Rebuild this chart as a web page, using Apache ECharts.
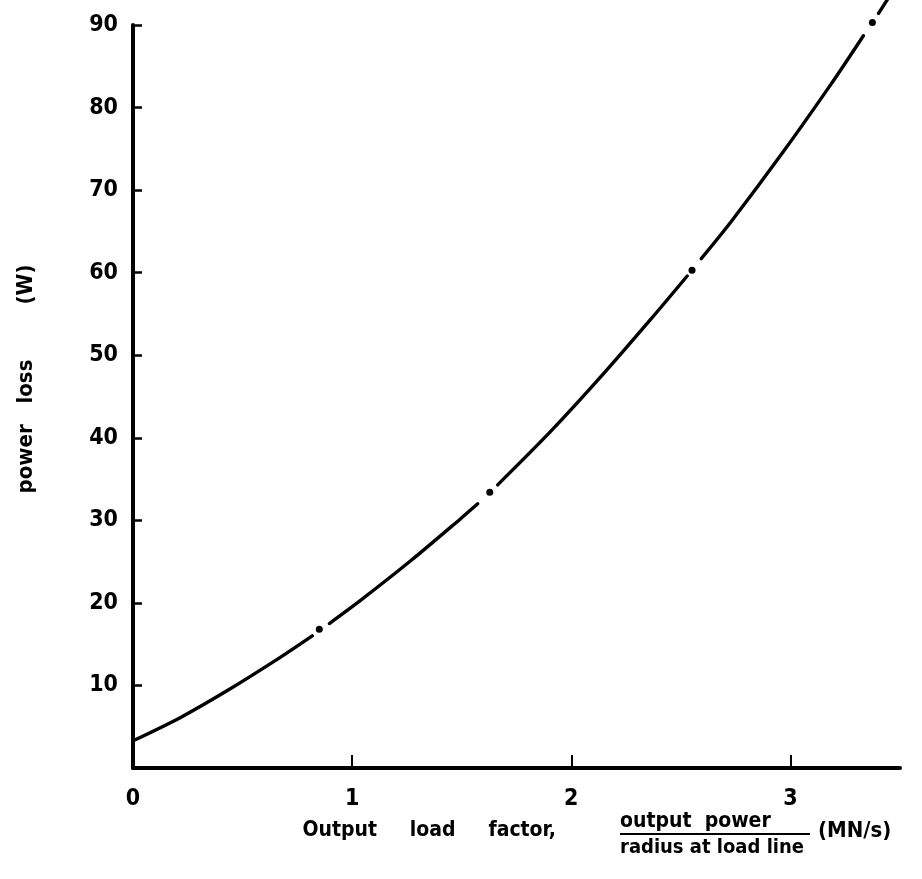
<!DOCTYPE html>
<html>
<head>
<meta charset="utf-8">
<script src="https://cdn.jsdelivr.net/npm/echarts@6/dist/echarts.min.js"></script>
<style>
  html, body { margin: 0; padding: 0; background: #fff; }
  #chart { width: 922px; height: 879px; }
</style>
</head>
<body>
<div id="chart"></div>
<script>
// Power loss (W) against output load factor (MN/s)
const xTicks = [0, 1, 2, 3];
const yTicks = [10, 20, 30, 40, 50, 60, 70, 80, 90];

// Curve drawn as a chain-dot line: solid runs separated by single dots
const runA = [[0, 3.3], [0.215, 6.1], [0.444, 9.6], [0.672, 13.4], [0.818, 16.0]];
const runB = [[0.896, 17.5], [1.038, 20.3], [1.267, 25.1], [1.495, 30.2], [1.573, 32.0]];
const runC = [[1.664, 34.3], [1.907, 40.8], [2.135, 47.4], [2.364, 54.4], [2.529, 59.6]];
const runD = [[2.593, 61.7], [2.730, 66.2], [2.958, 74.3], [3.187, 82.9], [3.333, 88.7]];
const runE = [[3.402, 91.4], [3.443, 93.1]];
const dots = [[0.850, 16.8], [1.628, 33.4], [2.551, 60.3], [3.374, 90.3]];

const FONT = '"DejaVu Sans Condensed", "Liberation Sans Narrow", "DejaVu Sans", sans-serif';
const INK = '#000';

const chart = echarts.init(document.getElementById('chart'), null, { renderer: 'canvas' });

function run(data) {
  return {
    type: 'line',
    data: data,
    smooth: 0.3,
    clip: false,
    symbol: 'none',
    silent: true,
    lineStyle: { color: INK, width: 3.4, cap: 'round' }
  };
}

function txt(x, y, text, size, align, rotation) {
  return {
    type: 'text',
    x: x, y: y,
    rotation: rotation || 0,
    style: {
      text: text,
      font: 'bold ' + size + 'px ' + FONT,
      fill: INK,
      align: align,
      verticalAlign: 'middle'
    }
  };
}

chart.setOption({
  animation: false,
  backgroundColor: '#fff',
  grid: { left: 133, top: 25, width: 767, height: 743, containLabel: false },
  xAxis: {
    type: 'value',
    min: 0,
    max: 3.5,
    interval: 1,
    splitLine: { show: false },
    axisLine: { lineStyle: { color: INK, width: 4 } },
    axisTick: { inside: true, length: 13, customValues: xTicks, lineStyle: { color: INK, width: 2 } },
    axisLabel: {
      customValues: xTicks,
      margin: 20,
      color: INK,
      fontFamily: FONT,
      fontWeight: 'bold',
      fontSize: 23
    }
  },
  yAxis: {
    type: 'value',
    min: 0,
    max: 90,
    interval: 10,
    splitLine: { show: false },
    axisLine: { lineStyle: { color: INK, width: 4 } },
    axisTick: { inside: true, length: 9, customValues: yTicks, lineStyle: { color: INK, width: 2.5 } },
    axisLabel: {
      customValues: yTicks,
      margin: 15,
      color: INK,
      fontFamily: FONT,
      fontWeight: 'bold',
      fontSize: 23
    }
  },
  series: [
    run(runA), run(runB), run(runC), run(runD), run(runE),
    {
      type: 'scatter',
      data: dots,
      clip: false,
      symbol: 'circle',
      symbolSize: 7,
      silent: true,
      itemStyle: { color: INK, opacity: 1 }
    }
  ],
  graphic: [
    txt(26, 379, 'power   loss        (W)', 22, 'center', Math.PI / 2),
    txt(556, 831, 'Output     load     factor,', 21, 'right'),
    txt(620, 822, 'output  power', 21, 'left'),
    {
      type: 'line',
      shape: { x1: 620, y1: 834, x2: 810, y2: 834 },
      style: { stroke: INK, lineWidth: 2 }
    },
    txt(620, 848, 'radius at load line', 20, 'left'),
    txt(818, 831, '(MN/s)', 22, 'left')
  ]
});
</script>
</body>
</html>
